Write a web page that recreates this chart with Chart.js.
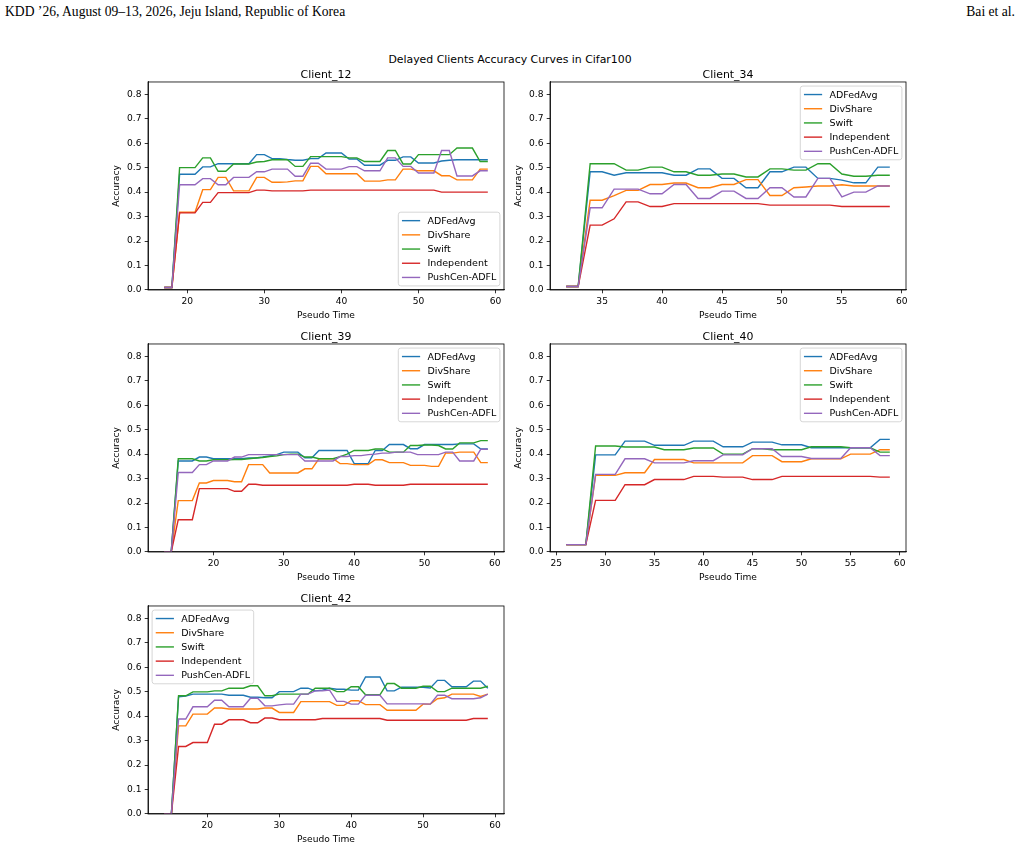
<!DOCTYPE html>
<html>
<head>
<meta charset="utf-8">
<script src="https://cdn.jsdelivr.net/npm/chart.js@4.4.1/dist/chart.umd.min.js"></script>
<style>
  html, body { margin: 0; padding: 0; background: #fff; }
  body { width: 1020px; height: 848px; position: relative; overflow: hidden; }
  .hdr { position: absolute; top: 4px; font-family: "Liberation Serif", "DejaVu Serif", serif; font-size: 13.6px; line-height: 15px; color: #000; white-space: nowrap; }
  #supt { position: absolute; top: 53px; left: 0; width: 1020px; text-align: center; font-family: "DejaVu Sans", sans-serif; font-size: 10.9px; line-height: 13px; color: #000; }
  .panel { position: absolute; width: 402px; height: 256px; }
</style>
</head>
<body>
<div class="hdr" style="left:5px;">KDD ’26, August 09–13, 2026, Jeju Island, Republic of Korea</div>
<div class="hdr" style="right:5px;">Bai et al.</div>
<div id="supt">Delayed Clients Accuracy Curves in Cifar100</div>
<canvas id="c12" class="panel" width="402" height="256" style="left:108px;top:66px;"></canvas>
<canvas id="c34" class="panel" width="402" height="256" style="left:510px;top:66px;"></canvas>
<canvas id="c39" class="panel" width="402" height="256" style="left:108px;top:328px;"></canvas>
<canvas id="c40" class="panel" width="402" height="256" style="left:510px;top:328px;"></canvas>
<canvas id="c42" class="panel" width="402" height="256" style="left:108px;top:590px;"></canvas>
<script>
// ---------- data ----------
const seriesNames = ["ADFedAvg", "DivShare", "Swift", "Independent", "PushCen-ADFL"];
const seriesColors = ["#1f77b4", "#ff7f0e", "#2ca02c", "#d62728", "#9467bd"];
const yTickValues = [0.0, 0.1, 0.2, 0.3, 0.4, 0.5, 0.6, 0.7, 0.8];

// Client_12
const c12Time = [17,18,19,20,21,22,23,24,25,26,27,28,29,30,31,32,33,34,35,36,37,38,39,40,41,42,43,44,45,46,47,48,49,50,51,52,53,54,55,56,57,58,59];
const c12ADFedAvg = [0.01,0.01,0.473,0.473,0.473,0.503,0.503,0.516,0.516,0.516,
  0.516,0.516,0.553,0.553,0.537,0.537,0.533,0.530,0.530,0.537,
  0.537,0.56,0.56,0.56,0.535,0.535,0.51,0.51,0.51,0.53,
  0.53,0.544,0.544,0.519,0.519,0.519,0.527,0.53,0.532,0.532,
  0.532,0.532,0.532];
const c12DivShare = [0.01,0.01,0.318,0.318,0.318,0.41,0.41,0.46,0.46,0.405,
  0.405,0.405,0.46,0.46,0.44,0.44,0.442,0.446,0.446,0.505,
  0.505,0.475,0.475,0.475,0.475,0.475,0.445,0.445,0.445,0.45,
  0.45,0.494,0.494,0.487,0.487,0.487,0.467,0.467,0.45,0.45,
  0.45,0.494,0.494];
const c12Swift = [0.01,0.01,0.50,0.50,0.50,0.54,0.54,0.485,0.485,0.515,
  0.515,0.515,0.523,0.525,0.532,0.532,0.532,0.505,0.505,0.545,
  0.545,0.545,0.545,0.545,0.54,0.54,0.525,0.525,0.525,0.57,
  0.57,0.515,0.515,0.553,0.553,0.553,0.553,0.553,0.58,0.58,
  0.58,0.525,0.525];
const c12Independent = [0.01,0.01,0.315,0.315,0.315,0.358,0.358,0.398,0.398,0.398,
  0.398,0.398,0.408,0.408,0.405,0.405,0.405,0.405,0.405,0.408,
  0.408,0.408,0.408,0.408,0.408,0.408,0.408,0.408,0.408,0.408,
  0.408,0.408,0.408,0.408,0.408,0.408,0.4,0.4,0.4,0.4,
  0.4,0.4,0.4];
const c12PushCen = [0.01,0.01,0.43,0.43,0.43,0.455,0.455,0.43,0.43,0.46,
  0.46,0.46,0.483,0.483,0.494,0.494,0.494,0.465,0.465,0.518,
  0.518,0.494,0.494,0.494,0.504,0.504,0.487,0.487,0.487,0.54,
  0.54,0.505,0.505,0.478,0.478,0.478,0.57,0.57,0.466,0.466,
  0.466,0.487,0.487];
const c12XTicks = [20, 30, 40, 50, 60];

// Client_34
const c34Time = [32,33,34,35,36,37,38,39,40,41,42,43,44,45,46,47,48,49,50,51,52,53,54,55,56,57,58,59];
const c34ADFedAvg = [0.014,0.014,0.483,0.483,0.469,0.479,0.479,0.479,0.479,0.469,
  0.469,0.495,0.495,0.456,0.456,0.418,0.418,0.483,0.483,0.502,
  0.502,0.456,0.456,0.449,0.438,0.438,0.502,0.502];
const c34DivShare = [0.014,0.014,0.367,0.367,0.386,0.407,0.407,0.431,0.431,0.437,
  0.437,0.418,0.418,0.431,0.431,0.451,0.451,0.386,0.386,0.418,
  0.421,0.425,0.425,0.43,0.425,0.425,0.425,0.425];
const c34Swift = [0.014,0.014,0.516,0.516,0.516,0.49,0.49,0.502,0.502,0.483,
  0.483,0.469,0.469,0.474,0.474,0.462,0.462,0.495,0.495,0.49,
  0.49,0.516,0.516,0.474,0.465,0.465,0.469,0.469];
const c34Independent = [0.014,0.014,0.265,0.265,0.291,0.36,0.36,0.341,0.341,0.353,
  0.353,0.353,0.353,0.353,0.353,0.353,0.353,0.347,0.347,0.347,
  0.347,0.347,0.347,0.341,0.341,0.341,0.341,0.341];
const c34PushCen = [0.014,0.014,0.336,0.336,0.412,0.412,0.412,0.393,0.393,0.431,
  0.431,0.374,0.374,0.404,0.404,0.374,0.374,0.418,0.418,0.38,
  0.38,0.456,0.456,0.38,0.4,0.4,0.425,0.425];
const c34XTicks = [35, 40, 45, 50, 55, 60];

// Client_39
const c39Time = [13,14,15,16,17,18,19,20,21,22,23,24,25,26,27,28,29,30,31,32,33,34,35,36,37,38,39,40,41,42,43,44,45,46,47,48,49,50,51,52,53,54,55,56,57,58,59];
const c39ADFedAvg = [0,0,0.372,0.372,0.372,0.388,0.388,0.381,0.381,0.381,
  0.381,0.381,0.384,0.384,0.388,0.393,0.398,0.408,0.408,0.408,
  0.385,0.385,0.415,0.415,0.415,0.415,0.415,0.361,0.361,0.361,
  0.415,0.415,0.439,0.439,0.439,0.422,0.422,0.439,0.439,0.439,
  0.439,0.439,0.442,0.442,0.442,0.421,0.421];
const c39DivShare = [0,0,0.21,0.21,0.21,0.282,0.282,0.292,0.292,0.292,
  0.287,0.287,0.357,0.357,0.357,0.323,0.323,0.323,0.323,0.323,
  0.34,0.34,0.381,0.381,0.381,0.361,0.361,0.357,0.357,0.357,
  0.377,0.377,0.365,0.365,0.365,0.354,0.354,0.354,0.35,0.35,
  0.404,0.404,0.408,0.408,0.408,0.365,0.365];
const c39Swift = [0,0,0.381,0.381,0.381,0.372,0.372,0.377,0.377,0.377,
  0.378,0.378,0.381,0.384,0.386,0.39,0.393,0.398,0.40,0.40,
  0.388,0.388,0.381,0.381,0.381,0.39,0.40,0.415,0.415,0.415,
  0.421,0.421,0.408,0.408,0.408,0.435,0.435,0.437,0.437,0.435,
  0.421,0.421,0.446,0.446,0.446,0.455,0.455];
const c39Independent = [0,0,0.132,0.132,0.132,0.259,0.259,0.259,0.259,0.259,
  0.248,0.248,0.277,0.277,0.273,0.273,0.273,0.273,0.273,0.273,
  0.273,0.273,0.273,0.273,0.273,0.273,0.273,0.277,0.277,0.277,
  0.273,0.273,0.273,0.273,0.273,0.277,0.277,0.277,0.277,0.277,
  0.277,0.277,0.277,0.277,0.277,0.277,0.277];
const c39PushCen = [0,0,0.325,0.325,0.325,0.357,0.357,0.372,0.372,0.372,
  0.388,0.388,0.398,0.398,0.398,0.398,0.398,0.398,0.398,0.398,
  0.372,0.372,0.372,0.372,0.372,0.39,0.39,0.394,0.394,0.398,
  0.40,0.404,0.404,0.408,0.408,0.408,0.398,0.398,0.398,0.398,
  0.408,0.408,0.372,0.372,0.372,0.42,0.42];
const c39XTicks = [20, 30, 40, 50, 60];

// Client_40
const c40Time = [26,27,28,29,30,31,32,33,34,35,36,37,38,39,40,41,42,43,44,45,46,47,48,49,50,51,52,53,54,55,56,57,58,59];
const c40ADFedAvg = [0.03,0.03,0.03,0.397,0.397,0.397,0.453,0.453,0.453,0.436,
  0.436,0.436,0.436,0.453,0.453,0.453,0.43,0.43,0.43,0.449,
  0.449,0.449,0.438,0.438,0.438,0.426,0.426,0.426,0.426,0.426,
  0.426,0.426,0.46,0.46];
const c40DivShare = [0.03,0.03,0.03,0.313,0.313,0.313,0.324,0.324,0.324,0.378,
  0.378,0.378,0.378,0.364,0.364,0.364,0.364,0.364,0.364,0.394,
  0.394,0.394,0.369,0.369,0.369,0.381,0.381,0.381,0.381,0.40,
  0.40,0.40,0.418,0.418];
const c40Swift = [0.03,0.03,0.03,0.433,0.433,0.433,0.429,0.429,0.429,0.429,
  0.418,0.418,0.418,0.425,0.425,0.425,0.40,0.40,0.40,0.422,
  0.422,0.418,0.418,0.418,0.418,0.43,0.43,0.43,0.43,0.426,
  0.426,0.426,0.408,0.408];
const c40Independent = [0.03,0.03,0.03,0.211,0.211,0.211,0.275,0.275,0.275,0.296,
  0.296,0.296,0.296,0.309,0.309,0.309,0.306,0.306,0.306,0.296,
  0.296,0.296,0.309,0.309,0.309,0.309,0.309,0.309,0.309,0.309,
  0.309,0.309,0.306,0.306];
const c40PushCen = [0.03,0.03,0.03,0.317,0.317,0.317,0.381,0.381,0.381,0.364,
  0.364,0.364,0.364,0.373,0.373,0.373,0.397,0.397,0.397,0.422,
  0.422,0.422,0.39,0.39,0.39,0.382,0.382,0.382,0.382,0.426,
  0.426,0.426,0.394,0.394];
const c40XTicks = [25, 30, 35, 40, 45, 50, 55, 60];

// Client_42
const c42Time = [14,15,16,17,18,19,20,21,22,23,24,25,26,27,28,29,30,31,32,33,34,35,36,37,38,39,40,41,42,43,44,45,46,47,48,49,50,51,52,53,54,55,56,57,58,59];
const c42ADFedAvg = [0,0,0.479,0.482,0.49,0.49,0.49,0.49,0.49,0.485,
  0.485,0.485,0.477,0.477,0.475,0.475,0.50,0.50,0.50,0.514,
  0.514,0.503,0.506,0.514,0.51,0.51,0.506,0.506,0.56,0.56,
  0.56,0.503,0.503,0.518,0.518,0.518,0.518,0.515,0.546,0.546,
  0.52,0.52,0.52,0.543,0.543,0.514];
const c42DivShare = [0,0,0.36,0.36,0.408,0.408,0.408,0.433,0.433,0.429,
  0.429,0.429,0.429,0.429,0.433,0.433,0.415,0.415,0.415,0.459,
  0.459,0.459,0.459,0.459,0.444,0.444,0.463,0.463,0.447,0.447,
  0.447,0.424,0.424,0.424,0.424,0.424,0.449,0.449,0.471,0.475,
  0.49,0.49,0.49,0.49,0.48,0.49];
const c42Swift = [0,0,0.483,0.483,0.499,0.499,0.499,0.503,0.503,0.514,
  0.514,0.514,0.524,0.524,0.483,0.483,0.49,0.49,0.49,0.49,
  0.49,0.514,0.514,0.514,0.50,0.50,0.52,0.52,0.487,0.487,
  0.487,0.533,0.533,0.514,0.514,0.514,0.522,0.522,0.50,0.50,
  0.514,0.514,0.514,0.514,0.514,0.522];
const c42Independent = [0,0,0.276,0.276,0.292,0.292,0.292,0.367,0.367,0.385,
  0.385,0.385,0.373,0.373,0.392,0.392,0.385,0.385,0.385,0.385,
  0.385,0.385,0.39,0.39,0.39,0.39,0.39,0.39,0.39,0.39,
  0.39,0.383,0.383,0.383,0.383,0.383,0.383,0.383,0.383,0.383,
  0.383,0.383,0.383,0.39,0.39,0.39];
const c42PushCen = [0,0,0.388,0.388,0.438,0.438,0.438,0.465,0.465,0.438,
  0.438,0.438,0.473,0.473,0.442,0.442,0.446,0.449,0.449,0.49,
  0.49,0.503,0.503,0.506,0.46,0.46,0.449,0.449,0.485,0.485,
  0.485,0.45,0.45,0.45,0.45,0.45,0.45,0.449,0.485,0.485,
  0.471,0.471,0.471,0.471,0.475,0.49];
const c42XTicks = [20, 30, 40, 50, 60];

// ---------- rendering ----------
const FONT = "'DejaVu Sans', sans-serif";
const TICK_FS = 9.1, TITLE_FS = 10.9, LEGEND_FS = 9.5;

const frameBox = {
  id: 'frameBox',
  afterDatasetsDraw(chart) {
    const a = chart.chartArea, ctx = chart.ctx;
    ctx.save();
    ctx.strokeStyle = '#000';
    ctx.lineWidth = 0.8;
    ctx.strokeRect(a.left, a.top, a.right - a.left, a.bottom - a.top);
    ctx.restore();
  }
};

const insideLegend = {
  id: 'insideLegend',
  afterDatasetsDraw(chart, args, opts) {
    if (!opts || !opts.corner) return;
    const ctx = chart.ctx, a = chart.chartArea, fs = TICK_FS;
    const ds = chart.data.datasets;
    ctx.save();
    ctx.font = LEGEND_FS + "px " + FONT;
    const tw = Math.max(...ds.map(d => ctx.measureText(d.label).width));
    const bp = 0.4 * fs, hl = 2.0 * fs, htp = 0.8 * fs, ls = 0.5 * fs, rowH = 1.06 * fs;
    const w = bp * 2 + hl + htp + tw;
    const h = bp * 2 + ds.length * rowH + (ds.length - 1) * ls;
    const pad = 0.45 * fs;
    const x = opts.corner.indexOf('r') >= 0 ? a.right - pad - w : a.left + pad;
    const y = opts.corner.indexOf('u') >= 0 ? a.top + pad : a.bottom - pad - h;
    const r = 2.5;
    ctx.beginPath();
    ctx.moveTo(x + r, y);
    ctx.lineTo(x + w - r, y); ctx.quadraticCurveTo(x + w, y, x + w, y + r);
    ctx.lineTo(x + w, y + h - r); ctx.quadraticCurveTo(x + w, y + h, x + w - r, y + h);
    ctx.lineTo(x + r, y + h); ctx.quadraticCurveTo(x, y + h, x, y + h - r);
    ctx.lineTo(x, y + r); ctx.quadraticCurveTo(x, y, x + r, y);
    ctx.closePath();
    ctx.fillStyle = 'rgba(255,255,255,0.8)';
    ctx.fill();
    ctx.strokeStyle = '#cccccc';
    ctx.lineWidth = 0.8;
    ctx.stroke();
    ds.forEach((d, i) => {
      const cy = y + bp + i * (rowH + ls) + rowH / 2;
      ctx.strokeStyle = d.borderColor;
      ctx.lineWidth = 1.4;
      ctx.beginPath();
      ctx.moveTo(x + bp, cy);
      ctx.lineTo(x + bp + hl, cy);
      ctx.stroke();
      ctx.fillStyle = '#000';
      ctx.textBaseline = 'middle';
      ctx.textAlign = 'left';
      ctx.fillText(d.label, x + bp + hl + htp, cy + 0.5);
    });
    ctx.restore();
  }
};

function makePanel(canvasId, title, times, seriesList, xTicks, legendCorner) {
  const tMin = Math.min(...times), tMax = Math.max(...times);
  const span = tMax - tMin;
  const datasets = seriesNames.map((name, i) => ({
    label: name,
    data: times.map((t, j) => ({ x: t, y: seriesList[i][j] })),
    borderColor: seriesColors[i],
    backgroundColor: seriesColors[i],
    borderWidth: 1.4,
    pointRadius: 0,
    pointHoverRadius: 0,
    tension: 0,
    fill: false,
    order: seriesNames.length - 1 - i
  }));
  const tickFont = { family: FONT, size: TICK_FS };
  new Chart(document.getElementById(canvasId), {
    type: 'line',
    data: { datasets },
    options: {
      responsive: false,
      animation: false,
      devicePixelRatio: 1,
      events: [],
      layout: { padding: { left: 0, right: 6, top: 0, bottom: 0 } },
      plugins: {
        legend: { display: false },
        tooltip: { enabled: false },
        title: {
          display: true, text: title, fullSize: false,
          font: { family: FONT, size: TITLE_FS, weight: 'normal' },
          color: '#000', padding: { top: 2.6, bottom: 0.3 }
        },
        insideLegend: { corner: legendCorner }
      },
      scales: {
        x: {
          type: 'linear',
          min: tMin - 0.05 * span,
          max: tMax + 0.05 * span,
          afterBuildTicks: s => { s.ticks = xTicks.map(v => ({ value: v })); },
          afterFit: s => { s.height = 32; },
          ticks: { font: tickFont, color: '#000', padding: 3.2, maxRotation: 0, autoSkip: false, callback: v => String(v) },
          grid: { display: true, drawOnChartArea: false, drawTicks: true, tickLength: 3.3, color: '#000', lineWidth: 0.8 },
          border: { display: true, color: '#000', width: 0.8 },
          title: { display: true, text: 'Pseudo Time', font: tickFont, color: '#000', padding: { top: 0, bottom: 1.0 } }
        },
        y: {
          type: 'linear',
          min: 0,
          max: 0.85,
          afterBuildTicks: s => { s.ticks = yTickValues.map(v => ({ value: v })); },
          afterFit: s => { s.width = 40; },
          ticks: { font: tickFont, color: '#000', padding: 3.2, autoSkip: false, callback: v => Number(v).toFixed(1) },
          grid: { display: true, drawOnChartArea: false, drawTicks: true, tickLength: 3.3, color: '#000', lineWidth: 0.8 },
          border: { display: true, color: '#000', width: 0.8 },
          title: { display: true, text: 'Accuracy', font: tickFont, color: '#000', padding: { top: 3.2, bottom: 0 } }
        }
      }
    },
    plugins: [frameBox, insideLegend]
  });
}

makePanel('c12', 'Client_12', c12Time, [c12ADFedAvg, c12DivShare, c12Swift, c12Independent, c12PushCen], c12XTicks, 'lr');
makePanel('c34', 'Client_34', c34Time, [c34ADFedAvg, c34DivShare, c34Swift, c34Independent, c34PushCen], c34XTicks, 'ur');
makePanel('c39', 'Client_39', c39Time, [c39ADFedAvg, c39DivShare, c39Swift, c39Independent, c39PushCen], c39XTicks, 'ur');
makePanel('c40', 'Client_40', c40Time, [c40ADFedAvg, c40DivShare, c40Swift, c40Independent, c40PushCen], c40XTicks, 'ur');
makePanel('c42', 'Client_42', c42Time, [c42ADFedAvg, c42DivShare, c42Swift, c42Independent, c42PushCen], c42XTicks, 'ul');
</script>
</body>
</html>
